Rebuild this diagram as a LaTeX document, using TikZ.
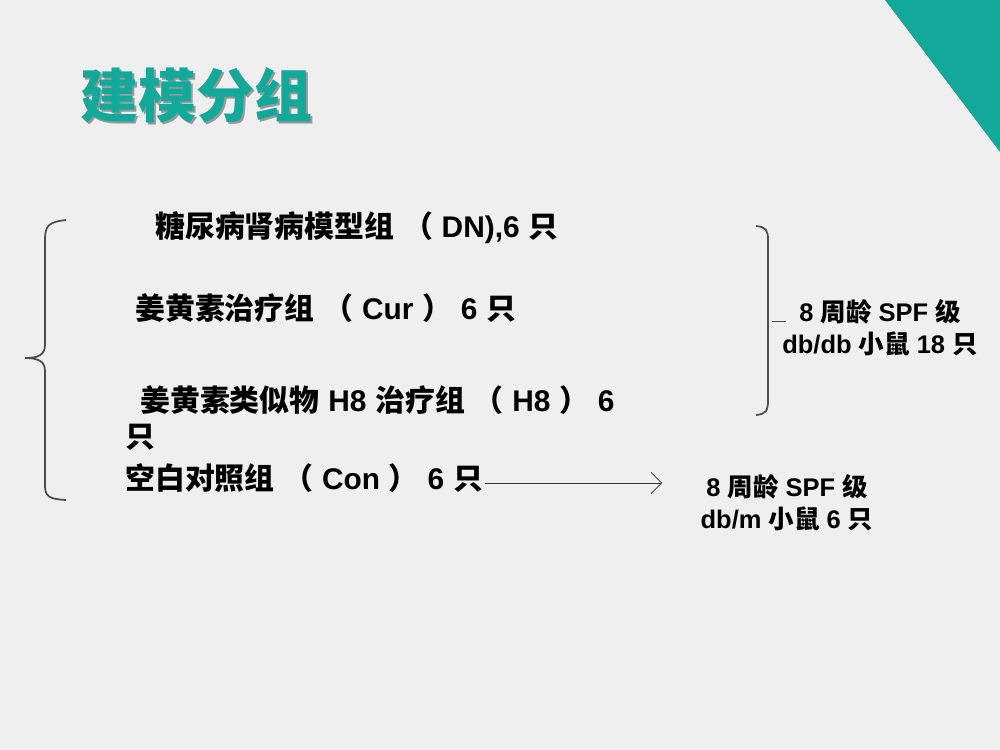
\documentclass[tikz,border=0pt]{standalone}
\usepackage{fontspec}
\setmainfont{Liberation Sans}
\newfontfamily\cjk{Noto Sans CJK SC}
\newcommand{\zh}[1]{{\cjk #1}}
\newcommand{\gp}{\hspace{5pt}}
\usetikzlibrary{arrows.meta}
\definecolor{bg}{HTML}{EFEFEF}
\definecolor{teal1}{HTML}{12A89A}
\tikzset{px/.style={x=0.02cm,y=-0.02cm},
 big/.style={anchor=west,inner sep=0,font=\fontsize{17}{19}\selectfont\bfseries},
 small/.style={anchor=center,inner sep=0,align=center,font=\fontsize{14.5}{18}\selectfont\bfseries},
 brk/.style={draw=black!70,line width=1pt}}
\begin{document}
\begin{tikzpicture}[px]
\fill[bg] (0,0) rectangle (1000,750);
\useasboundingbox (0,0) rectangle (1000,750);
\fill[teal1] (885,0) -- (1000,0) -- (1000,152) -- cycle;
\node[anchor=west,inner sep=0,text=black!40,font=\cjk\fontsize{33}{36}\selectfont\bfseries] (tsh) at (82,97) {建模分组};
\node[anchor=west,inner sep=0,text=teal1,font=\cjk\fontsize{33}{36}\selectfont\bfseries] (title) at (80,95) {建模分组};
\draw[brk] (66,220) .. controls (48,222) and (45,226) .. (45,240) -- (45,345) .. controls (45,355) and (38,358) .. (25,358) .. controls (38,358) and (45,361) .. (45,371) -- (45,485) .. controls (45,496) and (48,499) .. (66,500);
\draw[brk] (756,226) .. controls (766,227) and (768,230) .. (768,240) -- (768,400) .. controls (768,411) and (766,414) .. (756,415);
\node[big] (dn) at (155,228) {\zh{糖尿病肾病模型组}\gp\zh{（}\gp DN),6\gp\zh{只}};
\node[big] (cur) at (135,308) {\zh{姜黄素治疗组}\gp\zh{（}\gp Cur\gp\zh{）}\gp 6\gp\zh{只}};
\node[big] (h8) at (140,400) {\zh{姜黄素类似物}\gp H8\gp\zh{治疗组}\gp\zh{（}\gp H8\gp\zh{）}\gp 6};
\node[big] (h8b) at (125,437) {\zh{只}};
\node[big] (con) at (125,478) {\zh{空白对照组}\gp\zh{（}\gp Con\gp\zh{）}\gp 6\gp\zh{只}};
\node[small] (r1) at (880,328) {8 \zh{周龄} SPF \zh{级}\\db/db \zh{小鼠} 18 \zh{只}};
\node[small] (r2) at (787,503) {8 \zh{周龄} SPF \zh{级}\\db/m \zh{小鼠} 6 \zh{只}};
\coordinate (tick) at (786,321);
\draw[black!70] (772,321) -- (tick);
\draw[-{Straight Barb[length=6pt]},black!80] (con.east) ++(2,5) coordinate (a0) -- (662,483);
\end{tikzpicture}
\end{document}
